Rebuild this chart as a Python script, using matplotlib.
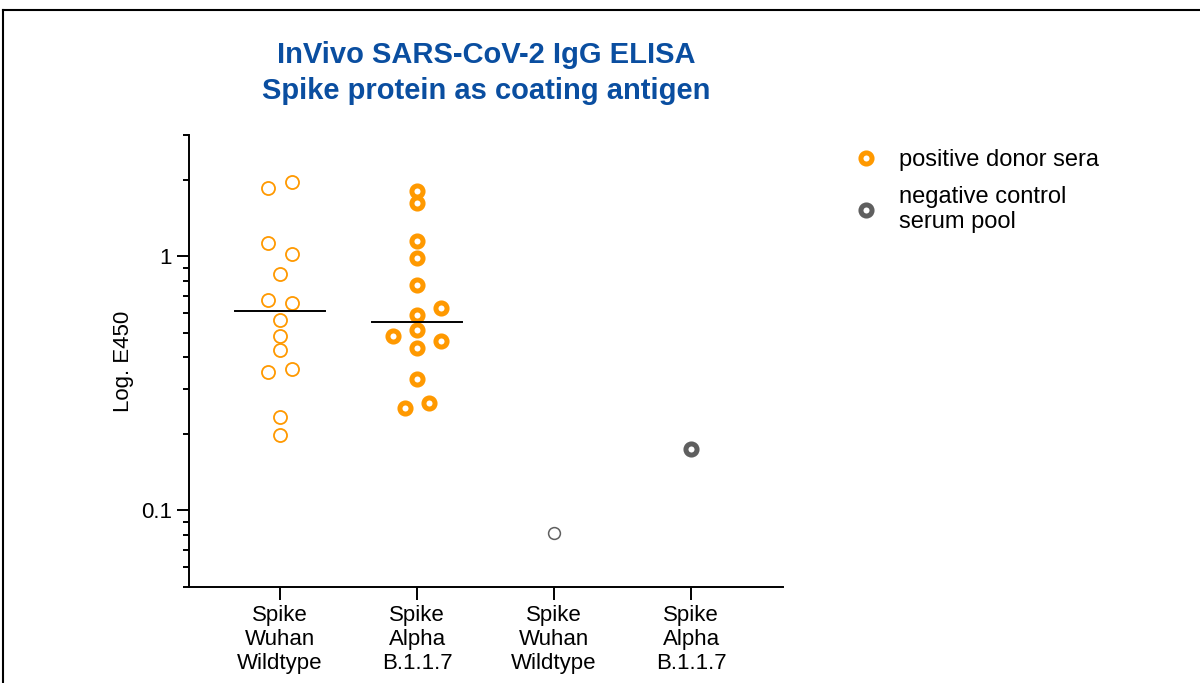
import numpy as np
import matplotlib.pyplot as plt
from matplotlib.lines import Line2D
from matplotlib.ticker import FixedLocator, LogLocator, NullFormatter

plt.rcParams['font.family'] = ['Liberation Sans', 'DejaVu Sans']

# x axis categories
groups = ['Spike\nWuhan\nWildtype', 'Spike\nAlpha\nB.1.1.7',
          'Spike\nWuhan\nWildtype', 'Spike\nAlpha\nB.1.1.7']

# positive donor sera (E450)
wuhan_pos = [1.86, 1.96, 1.125, 1.02, 0.85, 0.674, 0.656, 0.561,
             0.484, 0.429, 0.351, 0.360, 0.233, 0.198]
wuhan_jit = [-1, 1, -1, 1, 0, -1, 1, 0, 0, 0, -1, 1, 0, 0]
alpha_pos = [1.80, 1.625, 1.148, 0.982, 0.772, 0.625, 0.588, 0.511,
             0.486, 0.465, 0.435, 0.329, 0.264, 0.253]
alpha_jit = [0, 0, 0, 0, 0, 2, 0, 0, -2, 2, 0, 0, 1, -1]

# negative control serum pool
wuhan_neg = [0.0818]
alpha_neg = [0.175]

orange = '#ff9900'
grey = '#5f5f5f'
jit = 0.088

fig, ax = plt.subplots(figsize=(12, 6.83), dpi=100)
fig.subplots_adjust(left=0.1575, right=0.6525, bottom=0.1406, top=0.8023)

ax.plot(0 + np.array(wuhan_jit) * jit, wuhan_pos, 'o', ls='none', ms=9.4,
        mfc='white', mec=orange, mew=1.3)
pos_h, = ax.plot(1 + np.array(alpha_jit) * jit, alpha_pos, 'o', ls='none', ms=8,
                 mfc='white', mec=orange, mew=3.6)
ax.plot([2] * len(wuhan_neg), wuhan_neg, 'o', ls='none', ms=8.5,
        mfc='white', mec=grey, mew=1.1)
neg_h, = ax.plot([3] * len(alpha_neg), alpha_neg, 'o', ls='none', ms=8,
                 mfc='white', mec=grey, mew=3.6)

# median lines
for i, vals in enumerate([wuhan_pos, alpha_pos]):
    m = np.median(vals)
    ax.plot([i - 0.33, i + 0.33], [m, m], color='black', lw=1.4, zorder=3)

ax.set_yscale('log')
ax.set_ylim(0.05, 3)
ax.set_xlim(-0.664, 3.67)
ax.yaxis.set_major_locator(FixedLocator([0.1, 1]))
ax.set_yticklabels(['0.1', '1'])
ax.yaxis.set_minor_locator(LogLocator(base=10, subs=np.arange(2, 10)))
ax.yaxis.set_minor_formatter(NullFormatter())
ax.set_xticks(range(len(groups)))
ax.set_xticklabels(groups)

ax.tick_params(axis='both', which='major', labelsize=16, width=1.4, length=9, colors='black')
ax.tick_params(axis='y', which='minor', width=1.4, length=4.3)
ax.tick_params(axis='x', pad=4)
for s in ['top', 'right']:
    ax.spines[s].set_visible(False)
for s in ['left', 'bottom']:
    ax.spines[s].set_linewidth(1.4)

ax.set_ylabel('Log. E450', fontsize=16, labelpad=5)
ax.set_title('InVivo SARS-CoV-2 IgG ELISA\nSpike protein as coating antigen',
             fontsize=21, fontweight='bold', color='#0a4ea0', pad=26, linespacing=1.38)

ax.legend([pos_h, neg_h], ['positive donor sera', 'negative control\nserum pool'],
          loc='upper left', bbox_to_anchor=(0.692, 0.8126), bbox_transform=fig.transFigure,
          frameon=False, fontsize=17, handlelength=1.2, handletextpad=0.8,
          labelspacing=0.62, numpoints=1)

# page border (top and left)
yb = 1 - 9.5 / 683
xb = 3 / 1200
fig.add_artist(Line2D([xb, 1], [yb, yb], transform=fig.transFigure, color='black', lw=1.5))
fig.add_artist(Line2D([xb, xb], [0, yb], transform=fig.transFigure, color='black', lw=1.5))

fig.savefig('out.png', dpi=100)
